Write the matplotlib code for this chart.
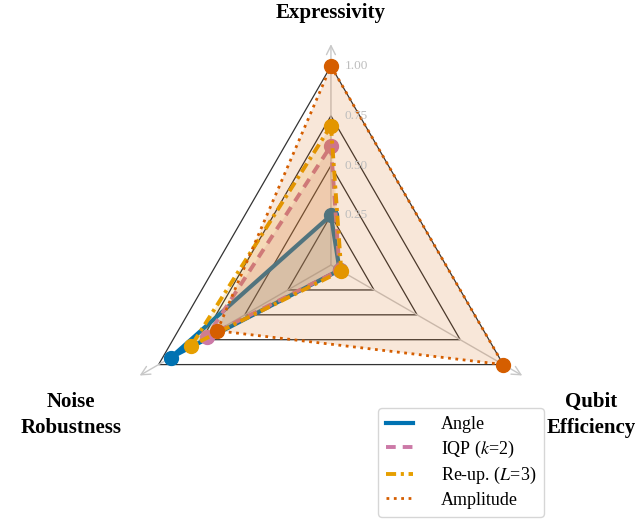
import numpy as np
import matplotlib
matplotlib.use("Agg")
import matplotlib.pyplot as plt

plt.rcParams['font.family'] = ['Liberation Serif', 'DejaVu Serif']
plt.rcParams['mathtext.fontset'] = 'stix'

# axes of the triangle: name, direction (deg), label radius
axis_names = ["Expressivity", "Qubit\nEfficiency", "Noise\nRobustness"]
axis_angles = [90, 330, 210]
label_radius = [1.265, 1.51, 1.51]

grid_levels = [0.25, 0.50, 0.75, 1.00]
tick_labels = ["0.25", "0.50", "0.75", "1.00"]

# scores per encoding, in axis order (Expressivity, Qubit Efficiency, Noise Robustness)
series_names = ["Angle", "IQP ($k$=2)", "Re-up. ($L$=3)", "Amplitude"]
angle_scores = [0.25, 0.05, 0.93]
iqp_scores = [0.60, 0.05, 0.72]
reup_scores = [0.70, 0.06, 0.81]
amplitude_scores = [1.00, 1.00, 0.66]

colors = ["#0072B2", "#CC79A7", "#E69F00", "#D55E00"]
styles = ["-", (0, (2.5, 1.8)), (0, (2.6, 1.2, 0.8, 1.2)), ":"]
widths = [3.0, 2.8, 2.8, 2.0]


def to_xy(values):
    th = np.deg2rad(axis_angles)
    v = np.asarray(values, dtype=float)
    return v * np.cos(th), v * np.sin(th)


fig = plt.figure(figsize=(6.39, 5.21), dpi=100)
ax = fig.add_axes([0, 0, 1, 1])
ax.set_xlim(-1.663, 1.548)
ax.set_ylim(-1.286, 1.332)
ax.axis('off')

# triangular grid
for lev in grid_levels:
    gx, gy = to_xy([lev] * 3)
    ax.fill(gx, gy, facecolor='none', edgecolor='#333333', lw=0.9, zorder=1)

# spokes with arrows
tx, ty = to_xy([1.11] * 3)
for x, y in zip(tx, ty):
    ax.annotate('', xy=(x, y), xytext=(0, 0),
                arrowprops=dict(arrowstyle='->', color='#c8c8c8', lw=1.0,
                                mutation_scale=16, shrinkA=0, shrinkB=0),
                zorder=1)

# tick labels along the top axis
for lev, lab in zip(grid_levels, tick_labels):
    ax.text(0.07, lev, lab, color='#bdbdbd', fontsize=9.5, ha='left', va='center', zorder=6)

# axis labels
lx, ly = to_xy(label_radius)
for name, x, y in zip(axis_names, lx, ly):
    ax.text(x, y, name, fontsize=15, fontweight='bold', ha='center', va='center',
            linespacing=1.4)

all_scores = [angle_scores, iqp_scores, reup_scores, amplitude_scores]
for k, (name, sc) in enumerate(zip(series_names, all_scores)):
    px, py = to_xy(sc)
    cx = np.append(px, px[0])
    cy = np.append(py, py[0])
    z = 2 + k
    ax.plot(cx, cy, color=colors[k], ls=styles[k], lw=widths[k], label=name, zorder=z)
    ax.plot(px, py, 'o', color=colors[k], ms=10, zorder=z)
    ax.fill(px, py, color=colors[k], alpha=0.15, lw=0, zorder=z)

fig.legend(loc='lower left', bbox_to_anchor=(0.592, 0.008), borderaxespad=0,
           fontsize=13, frameon=True, edgecolor='#cccccc', fancybox=True,
           handlelength=1.5, handletextpad=1.5, labelspacing=0.3,
           borderpad=0.45)

fig.savefig("out.png", dpi=100)
